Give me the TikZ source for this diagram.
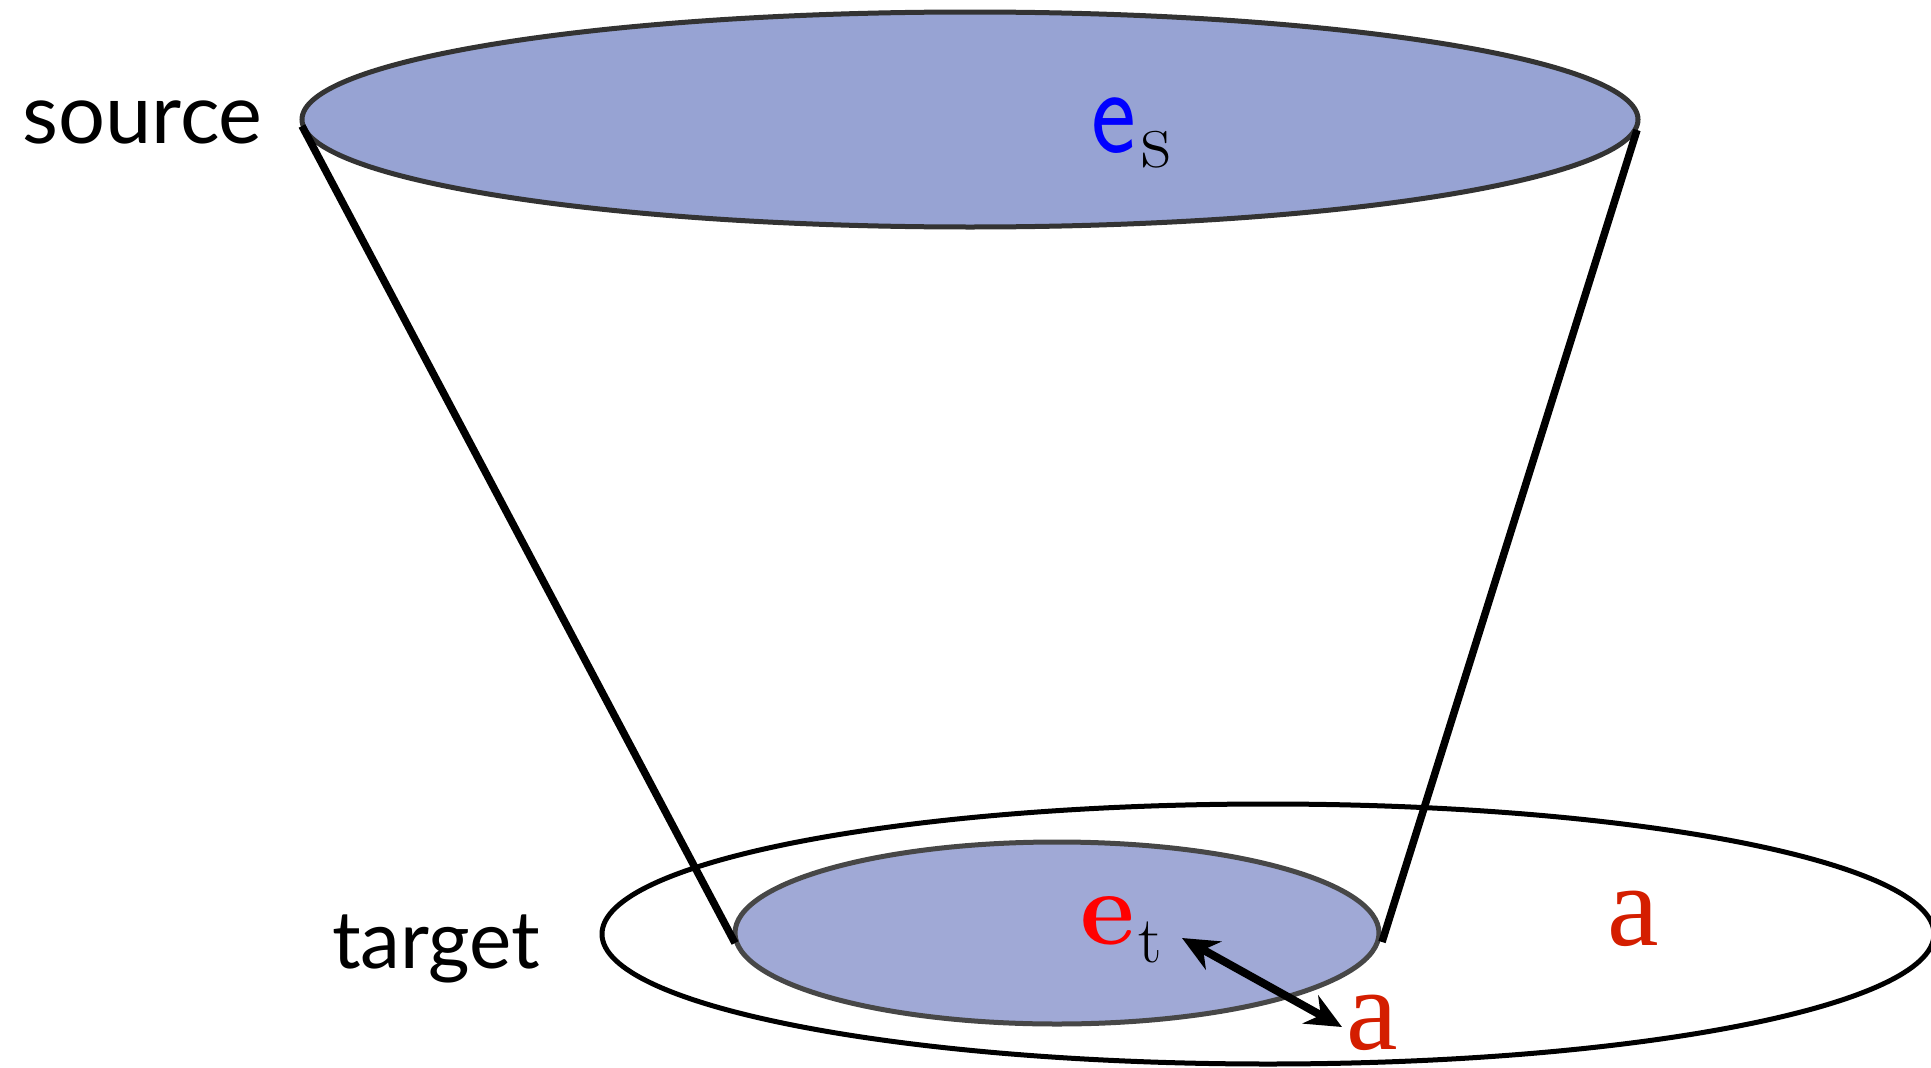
\documentclass[tikz,border=0pt]{standalone}
\usepackage{fontspec}
\setsansfont{Lato}
\newfontfamily\lmsans{Latin Modern Sans}
\newfontfamily\aserif{Liberation Serif}
\usetikzlibrary{arrows.meta}
\definecolor{topfill}{HTML}{97A3D3}
\definecolor{innerfill}{HTML}{A0A9D6}
\definecolor{rimgray}{HTML}{333333}
\definecolor{redA}{HTML}{D41E00}
\tikzset{
  rim/.style={draw=rimgray, line width=5pt},
  side/.style={draw=black, line width=7.5pt},
  lbl/.style={inner sep=0pt, anchor=base west},
}
\begin{document}
\begin{tikzpicture}[x=1pt,y=-1pt]
\useasboundingbox (0,0) rectangle (1931,1068);
% top (source) ellipse
\fill[topfill] (970,119.5) ellipse [x radius=668, y radius=107.5];
\draw[rim] (970,119.5) ellipse [x radius=668, y radius=107.5];
% bottom outer ellipse
\begin{scope}
\clip (0,0) rectangle (1931,1068);
\draw[black, line width=5pt] (1268,934) ellipse [x radius=666, y radius=130];
\end{scope}
% inner target ellipse
\fill[innerfill] (1057,933) ellipse [x radius=322, y radius=91];
\draw[draw=rimgray!90, line width=5pt] (1057,933) ellipse [x radius=322, y radius=91];
% cone sides
\coordinate (sl) at (302,126);
\coordinate (sr) at (1637,130);
\coordinate (tl) at (735,943);
\coordinate (tr) at (1382,942);
\draw[side] (sl) -- (tl);
\draw[side] (sr) -- (tr);
% labels
\node[lbl, font=\sffamily\fontsize{83}{83}\selectfont] (source) at (22,143) {source};
\node[lbl, font=\sffamily\fontsize{80}{80}\selectfont] (target) at (332,968) {target};
\node[lbl, text=blue, font=\lmsans\fontsize{124}{124}\selectfont] (esE) at (1091,152) {\scalebox{0.86}[1]{e}};
\node[lbl, font=\fontsize{82}{82}\selectfont] (esS) at (1141,167) {s};
\node[lbl, text=red, font=\bfseries\fontsize{106}{106}\selectfont] (etE) at (1080,944) {e};
\node[lbl, font=\fontsize{66}{66}\selectfont] (etT) at (1138,962) {t};
\node[lbl, text=redA, font=\aserif\fontsize{116}{116}\selectfont] (aIn) at (1346,1049) {a};
\node[lbl, text=redA, font=\aserif\fontsize{116}{116}\selectfont] (aOut) at (1607,945) {a};
% distance arrow
\coordinate (arA) at (1182,938);
\coordinate (arB) at (1342,1027);
\draw[line width=8pt, {Stealth[length=36pt,width=32pt]}-{Stealth[length=36pt,width=32pt]}] (arA) -- (arB);
\end{tikzpicture}
\end{document}
